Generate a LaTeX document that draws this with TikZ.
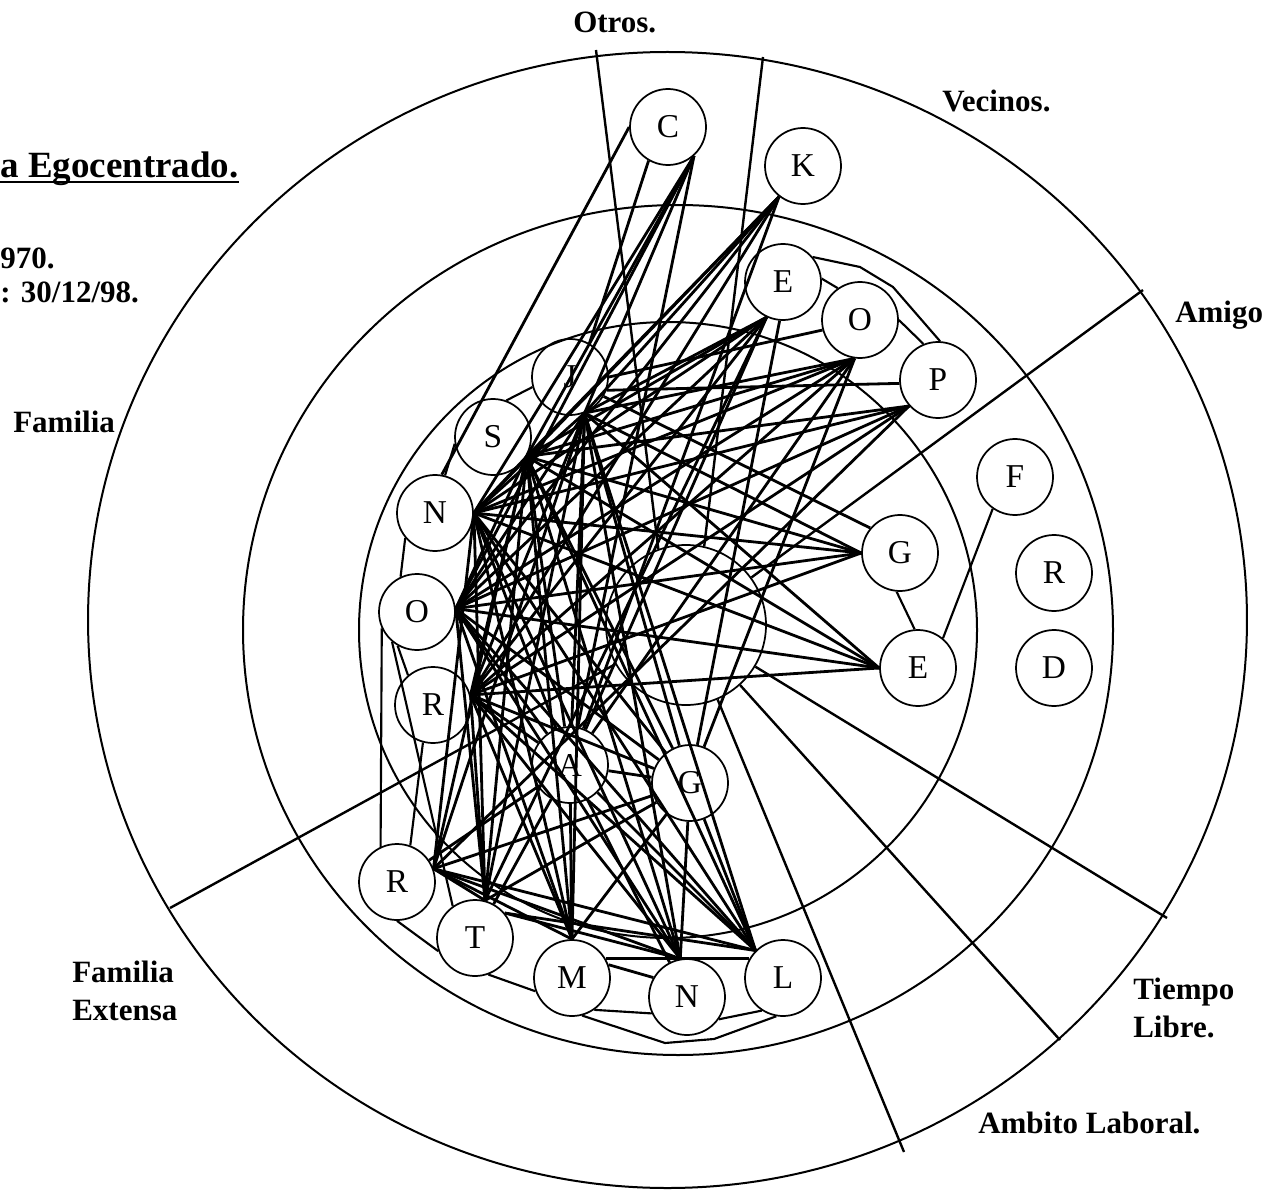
\documentclass[tikz,border=0pt]{standalone}
\usepackage{fontspec}
\setmainfont{Liberation Serif}
\begin{document}
\begin{tikzpicture}[x=0.75pt,y=-0.75pt,
  nd/.style={circle,draw,line width=1.3pt,minimum size=57pt,inner sep=0pt,font=\fontsize{25}{25}\selectfont},
  egoc/.style={circle,draw,line width=1.3pt,minimum size=120pt,inner sep=0pt},
  edge/.style={line width=2.1pt},
  ring/.style={line width=1.5pt},
  sector/.style={line width=1.8pt},
  hull/.style={line width=1.6pt},
  lbl/.style={font=\bfseries\fontsize{23.25}{26}\selectfont,inner sep=0pt,anchor=base west}]
\fill[white] (0,0) rectangle (1263,1191);
\useasboundingbox (0,0) rectangle (1263,1191);

% rings
\draw[ring] (667.5,620) ellipse [x radius=434.6pt, y radius=426pt];
\draw[ring] (678,630) ellipse [x radius=326.25pt, y radius=318.75pt];
\draw[ring] (668,630) ellipse [x radius=231.75pt, y radius=231pt];
\node[egoc] (ego) at (686,625) {};

% sector lines
\coordinate (oOl) at (596,50);
\coordinate (oOr) at (763,57);
\coordinate (oAm) at (1143,290);
\coordinate (oTi) at (1167,918);
\coordinate (oTA) at (1060,1040);
\coordinate (oAF) at (904,1152);
\coordinate (oFE) at (170,908);
\draw[sector] (oOl) -- (ego.110);
\draw[sector] (oOr) -- (ego.77);
\draw[sector] (oAm) -- (ego.36);
\draw[sector] (oTi) -- (ego.-31);
\draw[sector] (oTA) -- (ego.-48);
\draw[sector] (oAF) -- (ego.-67);
\draw[sector] (oFE) -- (ego.209);

% nodes
\node[nd] (C)  at (668,127) {C};
\node[nd] (K)  at (803,166) {K};
\node[nd] (Et) at (783,282) {E};
\node[nd] (Ot) at (860,320) {O};
\node[nd] (P)  at (938,380) {P};
\node[nd] (J)  at (570,377) {J};
\node[nd] (S)  at (493,437) {S};
\node[nd] (Nl) at (435,513) {N};
\node[nd] (Ol) at (417,612) {O};
\node[nd] (Rl) at (433,705) {R};
\node[nd] (A)  at (570,765) {A};
\node[nd] (Gb) at (690,783) {G};
\node[nd] (Rb) at (397,882) {R};
\node[nd] (T)  at (475,938) {T};
\node[nd] (M)  at (572,978) {M};
\node[nd] (Nb) at (687,997) {N};
\node[nd] (L)  at (783,978) {L};
\node[nd] (Gr) at (900,553) {G};
\node[nd] (Er) at (918,668) {E};
\node[nd] (F)  at (1015,477) {F};
\node[nd] (Rr) at (1054,573) {R};
\node[nd] (D)  at (1054,668) {D};

% hull / band lines
\coordinate (hA) at (860,267);
\coordinate (hB) at (893,287);
\coordinate (hC) at (665,1043);
\coordinate (hD) at (714,1039);
\draw[hull] (Et.40) -- (hA) -- (hB) -- (P.87);
\draw[hull] (Et.5) -- (Ot.125);
\draw[hull] (Ot.0) -- (P.112);
\draw[hull] (S.70) -- (J.195);
\draw[hull] (Nl.75) -- (S.190);
\draw[hull] (Nl.220) -- (Ol.115);
\draw[hull] (Ol.240) -- (Rl.130);
\draw[hull] (Rl.255) -- (Rb.70);
\draw[hull] (Ol.205) -- (Rb.115);
\draw[hull] (Ol.230) -- (T.125);
\draw[hull] (Rb.270) -- (T.200);
\draw[hull] (T.290) -- (M.200);
\draw[hull] (M.305) -- (Nb.205);
\draw[hull] (Nb.325) -- (L.237);
\draw[hull] (M.285) -- (hC) -- (hD) -- (L.260);
\draw[hull] (F.235) -- (Er.50);
\draw[hull] (Gr.265) -- (Er.95);

% edges
\foreach \a/\b in {
 C.-48/J.-68, C.-48/S.-30, C.-48/Nl.0, C.-48/Ol.5, C.-48/A, C.240/J.60, C.180/Nl.80,
 K.232/J.-68, K.232/S.-30, K.232/Nl.0, K.232/Ol.5, K.232/Rl.15, K.232/A,
 Et.245/J.-68, Et.245/S.-30, Et.245/Nl.0, Et.245/Ol.5, Et.245/Rl.15, Et.245/T.75, Et.265/Gb, Et.245/A,
 Ot.262/J.-68, Ot.262/S.-30, Ot.262/Nl.0, Ot.262/Ol.5, Ot.262/Rl.15, Ot.262/Gb, Ot.195/J.0, Ot.262/A,
 P.222/S.-30, P.222/Nl.0, P.222/Ol.5, P.222/Rl.15, P.222/Rb.20, P.185/J.-20,
 Gr.180/J.-68, Gr.180/S.-30, Gr.180/Nl.0, Gr.180/Ol.5, Gr.180/Rl.15, Gr.140/J.-30,
 Er.180/J.-68, Er.180/S.-30, Er.180/Nl.0, Er.180/Ol.5, Er.180/Rl.15,
 S.-30/A, S.-30/Gb, S.-30/Rb.20, S.-30/T.75, S.-30/M.90, S.-30/Nb.100, S.-30/L.135,
 J.-68/Rl.15, J.-68/A, J.-68/Gb, J.-68/Rb.20, J.-68/T.75, J.-68/M.90, J.-68/Nb.100, J.-68/L.135, J.-68/Ol.5, J.-68/Nl.0,
 Nl.0/S.-30, Nl.0/A, Nl.0/Gb, Nl.0/Rb.20, Nl.0/T.75, Nl.0/M.90, Nl.0/Nb.100, Nl.0/L.135,
 Ol.5/S.-30, Ol.5/A, Ol.5/Gb, Ol.5/T.75, Ol.5/M.90, Ol.5/Nb.100, Ol.5/L.135,
 Rl.15/S.-30, Rl.15/A, Rl.15/Gb, Rl.15/T.75, Rl.15/M.90, Rl.15/Nb.100, Rl.15/L.135,
 A/Gb, A/T, A/M, A/Nb, A/L, A/Rb,
 Gb/Rb.20, Gb/T.75, Gb/M.90, Gb/Nb.100, Gb/L.135,
 Rb.20/T.75, Rb.20/M.90, Rb.20/Nb.100, Rb.20/L.135,
 T.40/Nb.100, T.40/L.135, M.30/L.150, M.20/Nb.150}
 \draw[edge] (\a) -- (\b);

% labels
\node[lbl] (lOtros) at (573,33) {Otros.};
\node[lbl] (lVec) at (942,112) {Vecinos.};
\node[lbl] (lAmi) at (1175,322) {Amigo};
\node[lbl] (lFam) at (13,432) {Familia};
\node[lbl] (lFE1) at (72,982) {Familia};
\node[lbl] (lFE2) at (72,1020) {Extensa};
\node[lbl] (lTi1) at (1133,999) {Tiempo};
\node[lbl] (lTi2) at (1133,1037) {Libre.};
\node[lbl] (lAmb) at (978,1133) {Ambito Laboral.};
\node[lbl,font=\bfseries\fontsize{27.75}{30}\selectfont] (title) at (0,178) {a Egocentrado.};
\draw[line width=1.6pt] ([yshift=-3pt]title.base west) -- ([yshift=-3pt]title.base east);
\node[lbl] (l970) at (0,268) {970.};
\node[lbl] (ldate) at (0,302) {: 30/12/98.};
\end{tikzpicture}
\end{document}
